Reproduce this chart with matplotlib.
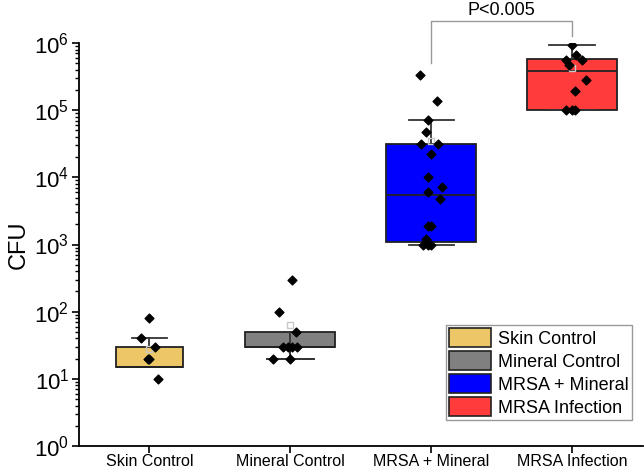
import numpy as np
import matplotlib
matplotlib.use("Agg")
import matplotlib.pyplot as plt
from matplotlib.patches import Patch

plt.rcParams['font.family'] = ['Liberation Sans', 'DejaVu Sans']
plt.rcParams['mathtext.fontset'] = 'custom'
plt.rcParams['mathtext.rm'] = 'Liberation Sans'
plt.rcParams['mathtext.it'] = 'Liberation Sans'
plt.rcParams['mathtext.bf'] = 'Liberation Sans'

# grupy
groups = ["Skin Control", "Mineral Control", "MRSA + Mineral", "MRSA Infection"]
colors = ["#EDC667", "#808080", "#0000FF", "#FF3B3B"]

# statystyki pudełek (q1, mediana, q3, wąsy, średnia)
q1 = [15, 30, 1100, 1.0e5]
med = [15, 30, 5400, 3.9e5]
q3 = [30, 50, 31000, 5.8e5]
whislo = [15, 20, 1000, 1.0e5]
whishi = [40, 20, 72000, 9.5e5]
means = [28, 64, 35000, 4.3e5]

# punkty pomiarowe
pts_skin = [80, 40, 30, 20, 20, 10]
pts_mineral = [300, 100, 50, 30, 30, 30, 30, 20, 20]
pts_mrsa_min = [330000, 137000, 72000, 48000, 31000, 31000, 22000, 10000,
                7300, 6000, 4700, 1900, 1900, 1230, 1000, 1000, 1000]
pts_mrsa_inf = [950000, 660000, 560000, 560000, 475000, 283000, 190000,
                100000, 100000, 100000]
points = [pts_skin, pts_mineral, pts_mrsa_min, pts_mrsa_inf]

# przesunięcia w poziomie (jitter)
jit = [
    [0.0, -0.06, 0.04, -0.01, 0.0, 0.06],
    [0.01, -0.08, 0.04, -0.05, -0.02, 0.01, 0.05, -0.12, 0.0],
    [-0.08, 0.04, -0.02, -0.04, -0.07, 0.05, 0.0, -0.02, 0.08, -0.02,
     0.06, -0.02, 0.0, -0.04, -0.06, -0.02, 0.0],
    [0.0, 0.03, -0.04, 0.07, -0.02, 0.1, 0.02, -0.04, 0.0, 0.02],
]

widths = [0.48, 0.64, 0.64, 0.64]
capw = [0.25, 0.33, 0.32, 0.33]

fig = plt.figure(figsize=(6.44, 4.73), dpi=100)
ax = fig.add_axes([0.1227, 0.057, 0.875, 0.852])

stats = []
for i in range(4):
    stats.append(dict(q1=q1[i], med=med[i], q3=q3[i], whislo=whislo[i],
                      whishi=whishi[i], mean=means[i], fliers=[]))

for i in range(4):
    ax.bxp([stats[i]], positions=[i + 1], widths=widths[i], patch_artist=True,
           showmeans=True, capwidths=capw[i],
           boxprops=dict(facecolor=colors[i], edgecolor="#222222", linewidth=1.3),
           medianprops=dict(color="#222222", linewidth=1.3),
           whiskerprops=dict(color="#333333", linewidth=1.3),
           capprops=dict(color="#333333", linewidth=1.3),
           meanprops=dict(marker="s", markerfacecolor="none",
                          markeredgecolor="#c8c8c8", markersize=5,
                          markeredgewidth=1))
    x = i + 1 + np.array(jit[i])
    ax.scatter(x, points[i], marker="D", s=20, color="black", zorder=5)

ax.set_yscale("log")
ax.set_ylim(1, 1e6)
ax.set_xlim(0.5, 4.5)
ax.set_xticks([1, 2, 3, 4])
ax.set_xticklabels(groups, fontsize=11.5)
ax.set_ylabel("CFU", fontsize=17, labelpad=3)
ax.tick_params(axis="y", which="major", labelsize=16, length=5, width=1.2, pad=2)
ax.tick_params(axis="y", which="minor", length=3, width=1)
ax.tick_params(axis="x", length=5, width=1.2, pad=1)
for s in ["top", "right"]:
    ax.spines[s].set_visible(False)
for s in ["left", "bottom"]:
    ax.spines[s].set_linewidth(1.3)

# znacznik istotności
y_bar = 2.1e6
ax.plot([3, 3, 4, 4], [5.0e5, y_bar, y_bar, 1.27e6], color="#999999",
        linewidth=1, clip_on=False)
ax.text(3.5, 2.25e6, "P<0.005", ha="center", va="bottom", fontsize=13)

handles = [Patch(facecolor=c, edgecolor="#222222", linewidth=1.2) for c in colors]
ax.legend(handles, groups, loc="lower right", bbox_to_anchor=(0.982, 0.064),
          fontsize=13, fancybox=False, edgecolor="#999999", framealpha=1,
          borderpad=0.2, labelspacing=0.2, handlelength=2.3, handleheight=1.2,
          handletextpad=0.4, borderaxespad=0)

fig.savefig("out.png", dpi=100)
